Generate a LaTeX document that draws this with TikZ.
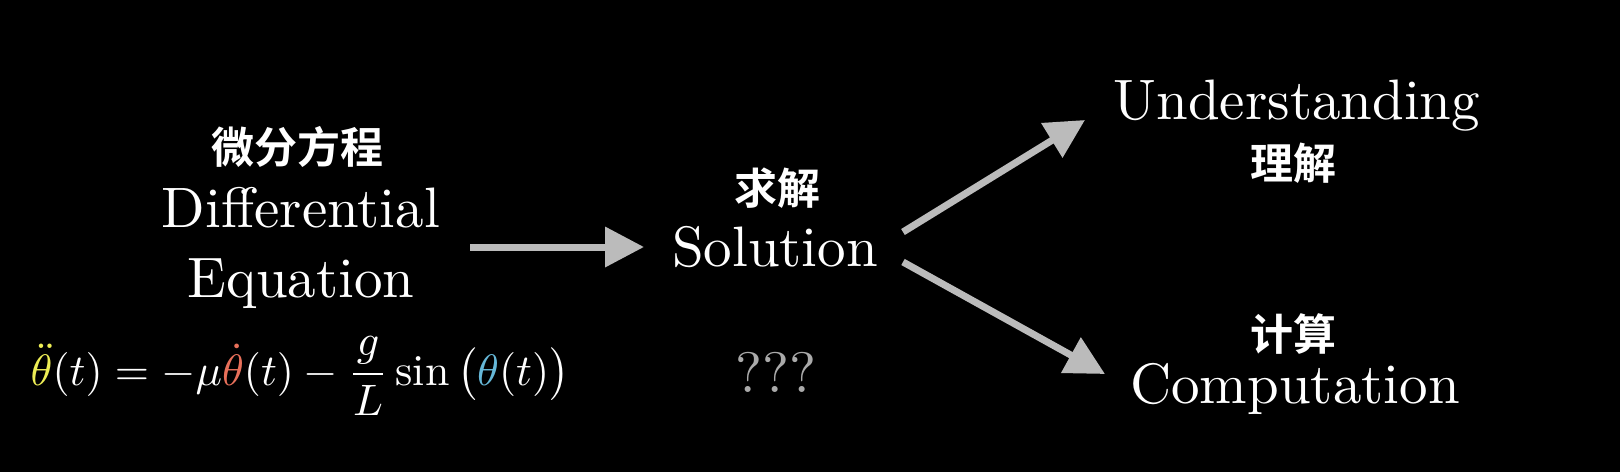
\documentclass[tikz,border=0pt]{standalone}
\usepackage{amsmath}
\usepackage{fontspec}
\newfontfamily\cjk{Noto Sans CJK SC}[BoldFont={Noto Sans CJK SC Bold}]
\usetikzlibrary{arrows.meta}
\definecolor{arrowgray}{HTML}{BBBBBB}
\definecolor{qgray}{HTML}{AAAAAA}
\definecolor{eqyellow}{HTML}{EEEE55}
\definecolor{eqred}{HTML}{E8705A}
\definecolor{eqblue}{HTML}{66B8D8}
\tikzset{
  latin/.style={text=white, inner sep=0pt, scale=5.7, anchor=base},
  mathlabel/.style={text=white, inner sep=0pt, scale=4.4, anchor=base},
  cjklabel/.style={text=white, inner sep=0pt, font=\cjk\bfseries\fontsize{43}{50}\selectfont, anchor=center},
  arr/.style={draw=arrowgray, line width=7pt, -{Triangle[length=39pt,width=39pt]}},
}
\begin{document}
\begin{tikzpicture}[x=1pt,y=-1pt]
\fill[black] (0,0) rectangle (1620,472);
\useasboundingbox (0,0) rectangle (1620,472);
% left block
\node[cjklabel] (cde) at (297,147) {微分方程};
\node[latin] (de1) at (301,227) {Differential};
\node[latin] (de2) at (301,297) {Equation};
\node[mathlabel] (eq) at (300,385)
  {$\textcolor{eqyellow}{\ddot{\theta}}(t) = -\mu\textcolor{eqred}{\dot{\theta}}(t) - \dfrac{g}{L}\sin\big(\textcolor{eqblue}{\theta}(t)\big)$};
% middle block
\node[cjklabel] (csol) at (777,188) {求解};
\node[latin] (sol) at (775,266) {Solution};
\node[latin, text=qgray] (q) at (776,392) {???};
% right block
\node[latin] (und) at (1297,119) {Understanding};
\node[cjklabel] (cund) at (1293,163) {理解};
\node[cjklabel] (ccomp) at (1293,334) {计算};
\node[latin] (comp) at (1295,403) {Computation};
% arrow end points
\coordinate (a1s) at (470,247);
\coordinate (a1e) at (644,247);
\coordinate (a2s) at (903,232);
\coordinate (a2e) at (1085,120);
\coordinate (a3s) at (903,262);
\coordinate (a3e) at (1105,374);
\draw[arr] (a1s) -- (a1e);
\draw[arr] (a2s) -- (a2e);
\draw[arr] (a3s) -- (a3e);
\end{tikzpicture}
\end{document}
